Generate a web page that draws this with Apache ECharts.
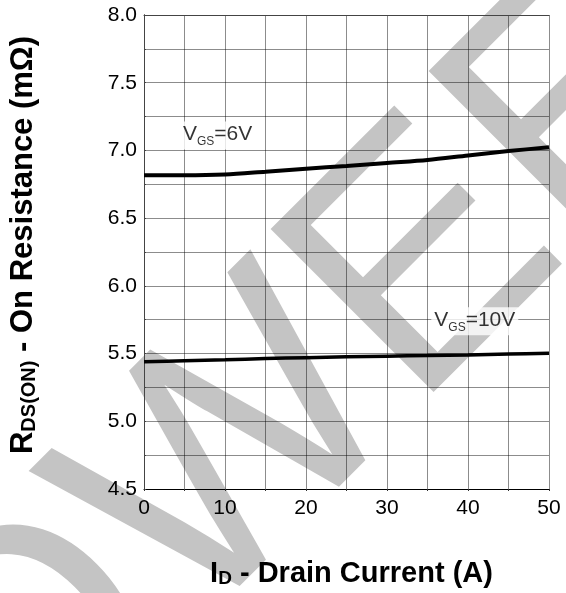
<!DOCTYPE html>
<html><head><meta charset="utf-8">
<script src="https://cdn.jsdelivr.net/npm/echarts@6/dist/echarts.min.js"></script>
<style>html,body{margin:0;padding:0;background:#fff}#c{width:566px;height:593px}</style>
</head><body><div id="c"></div>
<script>
// ---- data ----
const currentA = [0, 5, 10, 15, 20, 25, 30, 35, 40, 45, 50];
const rdsVgs6 = [6.816, 6.816, 6.822, 6.843, 6.865, 6.885, 6.908, 6.93, 6.963, 6.995, 7.024];
const rdsVgs10 = [5.44, 5.447, 5.454, 5.463, 5.47, 5.476, 5.481, 5.485, 5.49, 5.496, 5.502];
const xTickLabels = ['0', '10', '20', '30', '40', '50'];
const yTickLabels = ['4.5', '5.0', '5.5', '6.0', '6.5', '7.0', '7.5', '8.0'];
const curveLabels = ['6V', '10V'];
const labelAnchors = [[4.43, 7.11], [35.47, 5.739]];

const FONT = "'Liberation Sans', Arial, Helvetica, sans-serif";
const gridColor = 'rgba(0,0,0,0.45)';

function pairs(xs, ys) { return xs.map((x, i) => [x, ys[i]]); }

const chart = echarts.init(document.getElementById('c'), null, {renderer: 'canvas'});

const labelRich = {
  a: {fontSize: 21, fontFamily: FONT, color: '#000', lineHeight: 24, verticalAlign: 'top'},
  b: {fontSize: 12, fontFamily: FONT, color: '#000', lineHeight: 6, verticalAlign: 'bottom'}
};

chart.setOption({
  backgroundColor: '#fff',
  animation: false,
  graphic: [{
    type: 'text', x: -59, y: 754, rotation: Math.PI / 4, z: -10, zlevel: 0, silent: true,
    style: {
      text: 'OWEE', font: '335px ' + FONT, fill: '#c4c4c4',
      align: 'left', verticalAlign: 'middle', textAlign: 'left', textVerticalAlign: 'middle'
    }
  }],
  grid: {left: 143, right: 17, top: 15, bottom: 103},
  xAxis: [{
    type: 'value', min: 0, max: 50, interval: 5,
    axisLine: {show: true, lineStyle: {color: '#000', width: 1}},
    axisTick: {show: true, length: 2, lineStyle: {color: '#333'}},
    splitLine: {show: true, lineStyle: {color: gridColor, width: 1}},
    axisLabel: {
      fontSize: 21, fontFamily: FONT, color: '#000', margin: 9,
      formatter: v => (v % 10 === 0 ? xTickLabels[v / 10] : '')
    },
    name: '{a|I}{b|D}{a| - Drain Current (A)}',
    nameLocation: 'middle', nameGap: 70,
    nameTextStyle: {
      padding: [0, 0, 0, 10],
      rich: {
        a: {fontSize: 29, fontWeight: 'bold', fontFamily: FONT, color: '#000'},
        b: {fontSize: 19, fontWeight: 'bold', fontFamily: FONT, color: '#000', verticalAlign: 'bottom'}
      }
    }
  }, {
    type: 'value', min: 0, max: 50, interval: 5, position: 'top',
    axisLine: {show: true, lineStyle: {color: '#444', width: 1}},
    axisTick: {show: false}, axisLabel: {show: false}, splitLine: {show: false}
  }],
  yAxis: [{
    type: 'value', min: 4.5, max: 8, interval: 0.25,
    axisLine: {show: true, lineStyle: {color: '#000', width: 1}},
    axisTick: {show: false},
    splitLine: {show: true, lineStyle: {color: gridColor, width: 1}},
    axisLabel: {
      fontSize: 21, fontFamily: FONT, color: '#000', margin: 7,
      formatter: v => {
        const k = Math.round((v - 4.5) / 0.5 * 1000) / 1000;
        return Number.isInteger(k) ? yTickLabels[k] : '';
      }
    },
    name: '{a|R}{b|DS(ON)}{a| - On Resistance (mΩ)}',
    nameLocation: 'middle', nameGap: 105, nameRotate: 90,
    nameTextStyle: {
      padding: [0, 0, 0, 14],
      rich: {
        a: {fontSize: 31, fontWeight: 'bold', fontFamily: FONT, color: '#000'},
        b: {fontSize: 20, fontWeight: 'bold', fontFamily: FONT, color: '#000', verticalAlign: 'bottom'}
      }
    }
  }, {
    type: 'value', min: 4.5, max: 8, interval: 0.25, position: 'right',
    axisLine: {show: true, lineStyle: {color: '#444', width: 1}},
    axisTick: {show: true, length: 2, lineStyle: {color: '#444'}},
    axisLabel: {show: false}, splitLine: {show: false}
  }],
  series: [{
    name: 'VGS=' + curveLabels[0], type: 'line', smooth: 0.3, showSymbol: false,
    data: pairs(currentA, rdsVgs6),
    lineStyle: {color: '#000', width: 4}, z: 5
  }, {
    name: 'VGS=' + curveLabels[1], type: 'line', smooth: 0.3, showSymbol: false,
    data: pairs(currentA, rdsVgs10),
    lineStyle: {color: '#000', width: 3.5}, z: 5
  }, {
    type: 'scatter', symbolSize: 0, z: 6, silent: true,
    data: labelAnchors.map((p, i) => ({value: p, name: curveLabels[i]})),
    label: {
      show: true, position: 'right', distance: 0,
      backgroundColor: '#fff', padding: [2, 3, 2, 3],
      formatter: p => '{a|V}{b|GS}{a|=' + p.name + '}',
      rich: labelRich
    }
  }]
});
</script></body></html>
